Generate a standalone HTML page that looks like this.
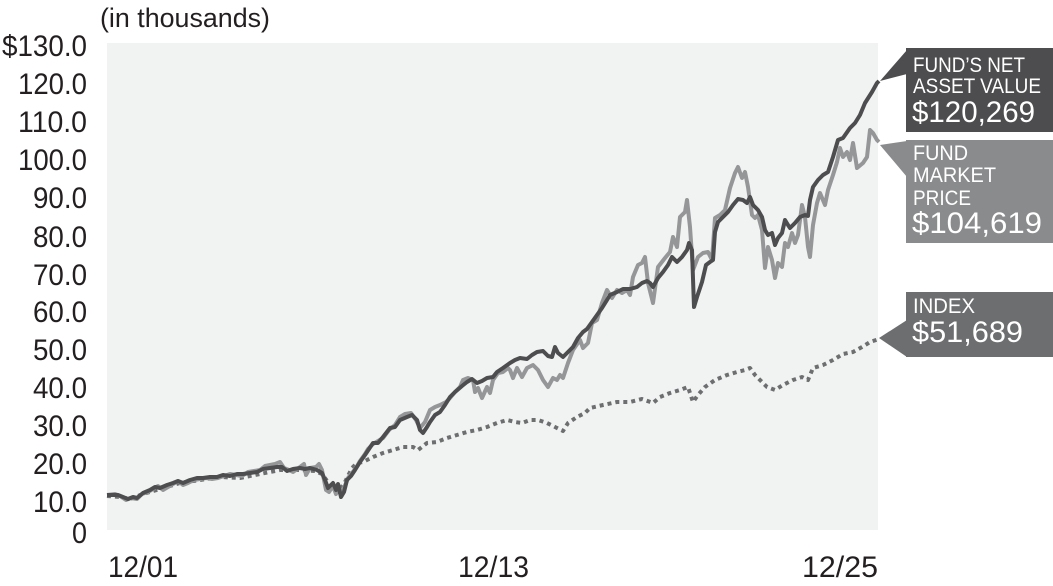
<!DOCTYPE html>
<html>
<head>
<meta charset="utf-8">
<style>
  html, body { margin:0; padding:0; background:#ffffff; }
  svg { display:block; }
  text { font-family: "Liberation Sans", sans-serif; }
</style>
</head>
<body>
<svg width="1053" height="586" viewBox="0 0 1053 586" xmlns="http://www.w3.org/2000/svg">
  <rect x="0" y="0" width="1053" height="586" fill="#ffffff"/>
  <!-- plot background -->
  <rect x="107" y="43" width="771" height="487" fill="#f1f2f2"/>

  <!-- title -->
  <text x="100" y="27" font-size="27" fill="#231f20" textLength="170" lengthAdjust="spacingAndGlyphs">(in thousands)</text>

  <!-- y axis labels -->
  <g font-size="30" fill="#231f20" text-anchor="end">
    <text x="87" y="56" textLength="85" lengthAdjust="spacingAndGlyphs">$130.0</text>
    <text x="87" y="94" textLength="69" lengthAdjust="spacingAndGlyphs">120.0</text>
    <text x="87" y="132" textLength="69" lengthAdjust="spacingAndGlyphs">110.0</text>
    <text x="87" y="170" textLength="69" lengthAdjust="spacingAndGlyphs">100.0</text>
    <text x="87" y="208" textLength="54" lengthAdjust="spacingAndGlyphs">90.0</text>
    <text x="87" y="247" textLength="54" lengthAdjust="spacingAndGlyphs">80.0</text>
    <text x="87" y="285" textLength="54" lengthAdjust="spacingAndGlyphs">70.0</text>
    <text x="87" y="322" textLength="54" lengthAdjust="spacingAndGlyphs">60.0</text>
    <text x="87" y="360" textLength="54" lengthAdjust="spacingAndGlyphs">50.0</text>
    <text x="87" y="398" textLength="54" lengthAdjust="spacingAndGlyphs">40.0</text>
    <text x="87" y="436" textLength="54" lengthAdjust="spacingAndGlyphs">30.0</text>
    <text x="87" y="474" textLength="54" lengthAdjust="spacingAndGlyphs">20.0</text>
    <text x="87" y="512" textLength="54" lengthAdjust="spacingAndGlyphs">10.0</text>
    <text x="87" y="543" textLength="15" lengthAdjust="spacingAndGlyphs">0</text>
  </g>

  <!-- x axis labels -->
  <g font-size="30" fill="#231f20">
    <text x="108" y="577" textLength="70" lengthAdjust="spacingAndGlyphs">12/01</text>
    <text x="458" y="577" textLength="71" lengthAdjust="spacingAndGlyphs">12/13</text>
    <text x="802" y="577" textLength="76" lengthAdjust="spacingAndGlyphs">12/25</text>
  </g>

  <!-- Index dotted -->
  <polyline fill="none" stroke="#6d6e70" stroke-width="4" stroke-dasharray="4 4" stroke-linejoin="round"
    points="107,496 120,497 130,499 143,494 160,489 180,483 200,480 220,477 240,478 260,474 280,470 300,470 315,471 322,474 330,485 338,492 345,482 352,468 357,463 363,462 373,457 383,453 393,450 403,447 413,447 418,450 427,443 437,442 447,438 457,435 467,432 477,430 487,427 497,423 507,420 515,422 522,423 530,420 538,420 547,423 555,427 563,431 568,423 577,417 585,413 590,408 603,405 617,402 630,402 642,399 653,403 660,397 670,393 680,390 688,387 693,402 698,395 705,387 715,380 727,375 737,372 745,370 750,368 755,375 762,382 767,387 775,390 783,385 793,380 802,377 808,380 813,368 823,365 833,360 843,354 853,352 862,347 870,342 879,339"/>

  <!-- Market price gray -->
  <polyline fill="none" stroke="#959698" stroke-width="4" stroke-linejoin="round"
    points="107,495 115,494 120,496 126,500 131,498 137,499 142,494 148,492 153,489 158,486 163,490 168,487 173,484 178,481 183,485 188,483 194,480 200,479 206,478 212,479 218,478 224,476 230,474 236,475 242,476 248,472 254,471 260,470 265,466 270,465 275,464 280,462 284,468 289,470 293,472 300,467 304,464 306,475 310,468 316,467 319,464 322,470 326,490 329,492 333,486 336,494 338,486 341,492 344,488 348,478 352,473 356,468 360,461 365,454 368,449 373,444 378,441 383,438 389,430 395,425 400,417 405,414 411,413 416,420 420,428 425,422 430,410 435,407 440,405 446,402 450,398 455,392 460,387 463,380 468,378 473,380 475,392 478,388 482,398 487,387 490,393 493,380 498,373 503,372 508,368 510,370 513,378 517,368 522,377 527,368 533,365 538,370 543,380 548,387 553,378 557,380 560,375 563,378 568,363 573,350 580,340 583,348 588,343 592,323 597,320 602,303 607,290 612,298 617,290 622,293 627,290 630,295 633,277 638,265 642,263 645,257 648,283 653,303 658,267 665,258 670,252 673,237 677,247 680,217 685,212 687,200 690,227 693,270 698,257 703,253 708,252 712,260 715,218 720,215 725,210 730,188 735,173 738,167 742,178 745,172 748,187 752,215 755,218 758,215 762,230 765,268 768,247 772,260 775,278 778,263 782,267 785,243 788,247 792,233 795,243 798,235 802,205 805,217 808,247 810,257 813,225 817,203 820,193 825,205 828,190 833,175 837,162 840,148 843,157 847,152 850,160 853,143 857,168 863,163 867,157 870,130 873,133 877,140 879,142"/>

  <!-- NAV dark -->
  <polyline fill="none" stroke="#4d4d4f" stroke-width="4" stroke-linejoin="round"
    points="107,495 118,495 123,497 128,499 133,497 137,498 143,493 150,490 155,487 160,488 167,485 173,483 178,481 183,483 190,480 197,478 203,478 210,477 217,477 223,475 230,476 237,474 243,474 250,473 257,472 263,469 270,468 277,467 282,467 287,471 293,469 300,468 305,469 310,468 317,470 322,473 325,480 328,488 333,483 336,490 338,484 341,497 344,492 347,480 351,476 355,470 360,462 365,455 367,452 373,443 378,443 383,437 390,428 395,427 400,420 407,417 412,415 417,420 420,430 423,433 427,427 430,422 435,415 440,412 445,405 450,397 455,392 462,386 467,382 472,379 477,383 482,381 487,378 493,377 497,372 503,368 510,363 515,360 520,358 527,359 532,355 537,352 543,351 548,356 552,357 555,347 558,353 563,357 568,352 573,347 578,338 583,332 587,329 592,322 597,315 602,308 607,300 610,295 617,292 623,289 630,289 637,287 642,283 647,281 650,283 653,287 658,278 663,272 668,265 672,257 677,262 682,257 687,250 689,243 692,250 694,307 697,297 702,282 706,265 710,262 713,260 715,232 718,222 723,217 728,212 733,205 738,199 743,200 747,203 750,197 753,205 758,210 762,217 765,230 768,235 772,233 775,245 778,238 782,233 785,220 788,225 790,228 795,223 800,217 805,215 808,216 810,200 813,187 818,180 823,175 828,172 833,157 838,140 843,138 850,128 855,123 860,115 865,103 872,92 877,83 879,81"/>

  <!-- NAV label -->
  <polygon points="907,50 880,81 907,74" fill="#4d4d4f"/>
  <rect x="906" y="48" width="147" height="84" fill="#4d4d4f"/>
  <g fill="#ffffff">
    <text x="913" y="72" font-size="21" textLength="112" lengthAdjust="spacingAndGlyphs">FUND’S NET</text>
    <text x="913" y="93" font-size="21" textLength="128" lengthAdjust="spacingAndGlyphs">ASSET VALUE</text>
    <text x="912" y="122" font-size="30" textLength="123" lengthAdjust="spacingAndGlyphs">$120,269</text>
  </g>

  <!-- Market price label -->
  <polygon points="907,141 880,145 907,177" fill="#8a8b8d"/>
  <rect x="906" y="140" width="147" height="103" fill="#8a8b8d"/>
  <g fill="#ffffff">
    <text x="913" y="160" font-size="21" textLength="55" lengthAdjust="spacingAndGlyphs">FUND</text>
    <text x="913" y="182" font-size="21" textLength="83" lengthAdjust="spacingAndGlyphs">MARKET</text>
    <text x="913" y="205" font-size="21" textLength="58" lengthAdjust="spacingAndGlyphs">PRICE</text>
    <text x="912" y="233" font-size="30" textLength="130" lengthAdjust="spacingAndGlyphs">$104,619</text>
  </g>

  <!-- Index label -->
  <polygon points="907,320 879,338 907,357" fill="#6d6e70"/>
  <rect x="906" y="292" width="147" height="65" fill="#6d6e70"/>
  <g fill="#ffffff">
    <text x="913" y="313" font-size="21" textLength="62" lengthAdjust="spacingAndGlyphs">INDEX</text>
    <text x="912" y="342" font-size="30" textLength="111" lengthAdjust="spacingAndGlyphs">$51,689</text>
  </g>
</svg>
</body>
</html>
